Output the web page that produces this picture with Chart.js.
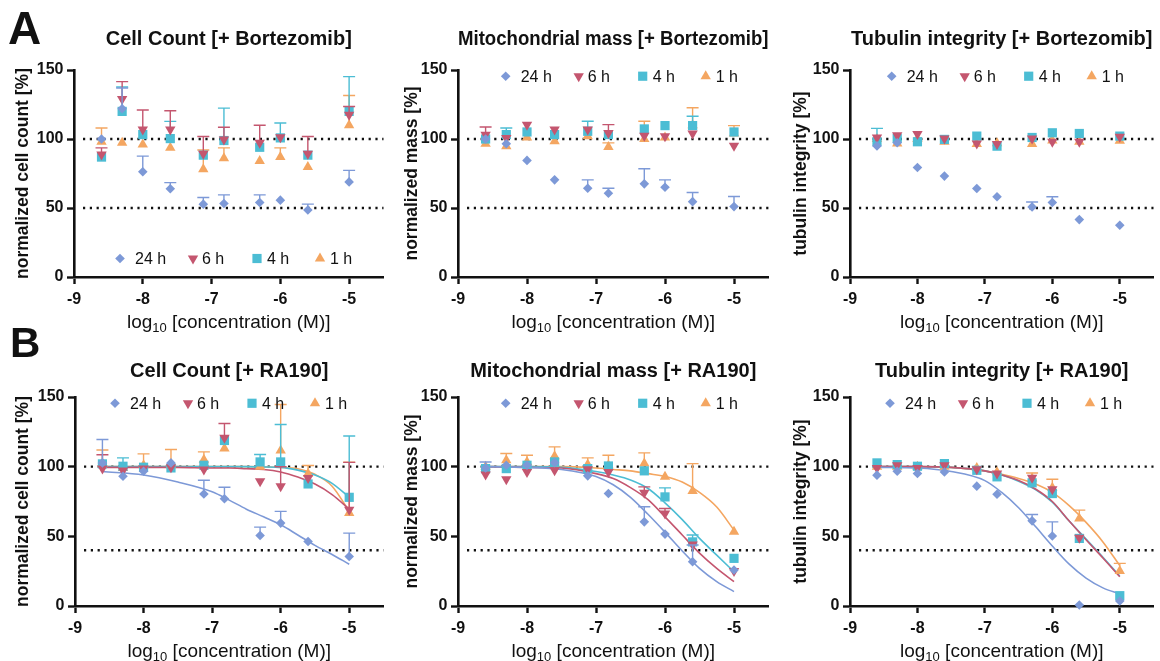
<!DOCTYPE html>
<html lang="en">
<head>
  <meta charset="UTF-8" />
  <title>Cell count, mitochondrial mass and tubulin integrity</title>
  <script src="https://cdn.jsdelivr.net/npm/chart.js"></script>
  <style>
    body {
      margin: 0;
      background: #fff;
      font-family: 'Liberation Sans', Arial, sans-serif;
    }
    #fig {
      position: relative;
      width: 1160px;
      height: 661px;
      overflow: hidden;
    }
    #fig canvas {
      position: absolute;
    }
    .letter {
      position: absolute;
      font-weight: bold;
      line-height: 1;
      color: #111;
    }
  </style>
</head>
<body>
  <div id="fig">
    <canvas id="a1" width="390" height="338" style="left:0;top:0"></canvas>
    <canvas id="a2" width="385" height="338" style="left:390px;top:0"></canvas>
    <canvas id="a3" width="385" height="338" style="left:775px;top:0"></canvas>
    <canvas id="b1" width="390" height="323" style="left:0;top:338px"></canvas>
    <canvas id="b2" width="385" height="323" style="left:390px;top:338px"></canvas>
    <canvas id="b3" width="385" height="323" style="left:775px;top:338px"></canvas>
    <div class="letter" style="left:8px;top:5px;font-size:46px">A</div>
    <div class="letter" style="left:10px;top:322px;font-size:42px">B</div>
  </div>

  <script>
    // log10 concentrations (M) and tick labels
    const conc = [-8.6, -8.3, -8, -7.6, -7.12, -6.82, -6.3, -6, -5.6, -5];
    const fitConc = [-8.6, -8, -7.5, -7, -6.75, -6.5, -6.25, -6, -5.75, -5.5, -5.25, -5];
    const xTickValues = [-9, -8, -7, -6, -5];
    const yTickValues = [0, 50, 100, 150];
    const timepoints = ['24 h', '6 h', '4 h', '1 h'];

    // A: Bortezomib - cell count (mean, upper SEM)
    const bzCell24 = [100, 122, 76.3, 64, 52.8, 53.3, 54, 55.7, 48.5, 68.9];
    const bzCell24Err = [0, 15, 11.3, 4.4, 4.8, 6.2, 5.5, 0, 4.3, 8.4];
    const bzCell6 = [88.8, 129, 106.8, 106.8, 89.3, 99.6, 97.2, 101.3, 89.3, 117.6];
    const bzCell6Err = [4.8, 12.6, 14.2, 13.7, 12.5, 8.9, 12.8, 0, 12.5, 6];
    const bzCell4 = [86.9, 120, 103.2, 100.3, 88.3, 98.9, 94, 100.8, 88.3, 120];
    const bzCell4Err = [0, 17.7, 0, 12.5, 0, 23.5, 0, 10.8, 0, 25.2];
    const bzCell1 = [98, 97.2, 96, 93.6, 78, 86, 84, 86.9, 79.7, 110];
    const bzCell1Err = [10, 0, 0, 0, 14, 7.6, 0, 6.7, 0, 21.5];

    // A: Bortezomib - mitochondrial mass
    const bzMito24 = [100, 96.6, 84.5, 70.4, 64.3, 60.7, 67.5, 65, 54.6, 51];
    const bzMito24Err = [0, 0, 0, 0, 6.1, 3.6, 10.9, 5.4, 6.6, 7.3];
    const bzMito6 = [103, 100.7, 110.4, 106.8, 106.8, 104.4, 102.4, 102, 103.9, 95.1];
    const bzMito6Err = [5.7, 0, 0, 0, 0, 6, 0, 0, 0, 0];
    const bzMito4 = [100, 103.2, 105.1, 103.2, 105.6, 103.2, 107.3, 109.7, 109.7, 105.1];
    const bzMito4Err = [0, 4.8, 0, 0, 7.3, 0, 0, 0, 6.8, 0];
    const bzMito1 = [96.6, 94.7, 101, 98.3, 102, 94.2, 100, 101, 110, 104];
    const bzMito1Err = [0, 0, 0, 0, 0, 3, 12.9, 0, 12.6, 5.7];

    // A: Bortezomib - tubulin integrity
    const bzTub24 = [95, 97.3, 79.4, 73.1, 64.1, 58.1, 50.8, 54, 41.6, 37.5];
    const bzTub24Err = [0, 0, 0, 0, 0, 0, 3.6, 4.1, 0, 0];
    const bzTub6 = [101, 102.8, 103.6, 100.4, 96.8, 96.3, 100.4, 98, 98, 101.6];
    const bzTub6Err = [0, 0, 0, 0, 0, 0, 0, 0, 0, 0];
    const bzTub4 = [98, 100.4, 98, 99.7, 102.1, 94.8, 101.1, 104.5, 104, 102.1];
    const bzTub4Err = [9.7, 0, 0, 0, 0, 0, 0, 0, 0, 0];
    const bzTub1 = [100, 96.8, 100, 98, 96.3, 97, 96.3, 99, 98, 98.7];
    const bzTub1Err = [0, 0, 0, 0, 0, 0, 0, 0, 0, 0];

    // B: RA190 - cell count
    const raCell24 = [102.7, 93.1, 96.7, 102.7, 80.4, 77, 50.6, 59.5, 46.3, 35.5];
    const raCell24Err = [16.8, 0, 0, 0, 9.8, 8.2, 6, 8.4, 0, 16.8];
    const raCell6 = [98.6, 97.2, 98.6, 99.6, 97.9, 120.7, 89.5, 85.9, 91.9, 69.1];
    const raCell6Err = [10, 0, 0, 0, 0, 10.3, 0, 14, 0, 34];
    const raCell4 = [102, 100.3, 99.6, 99.1, 101, 118.8, 103.4, 103.4, 87.6, 78];
    const raCell4Err = [0, 6, 0, 0, 0, 0, 5.3, 26.9, 0, 44];
    const raCell1 = [102, 99, 101, 101, 105, 113, 100, 111.6, 95, 66.7];
    const raCell1Err = [10, 0, 8.2, 11.3, 5.6, 0, 0, 33, 5.8, 36.5];
    const raCellFit24 = [96.5, 94, 89, 82, 76, 69.5, 64, 58.3, 51, 43.5, 37, 30];
    const raCellFit6 = [99.5, 99.5, 99.5, 99, 99, 98.5, 98, 96.2, 92.5, 87.5, 80, 69.6];
    const raCellFit4 = [100, 100, 100, 100, 100, 100, 99.8, 99.5, 97.5, 94, 88, 78];
    const raCellFit1 = [100, 100, 100, 100, 100, 100, 99.8, 99.5, 98.5, 94.5, 86, 68];

    // B: RA190 - mitochondrial mass
    const raMito24 = [99, 101, 101, 102.9, 93.4, 80.7, 60.4, 51.6, 31.8, 25.8];
    const raMito24Err = [4.4, 0, 0, 0, 0, 0, 10.8, 0, 12, 0];
    const raMito6 = [94.3, 91, 96.2, 97.4, 98.2, 96.2, 81.2, 66.4, 44.2, 25.1];
    const raMito6Err = [0, 0, 0, 0, 0, 0, 4.3, 3.6, 0, 0];
    const raMito4 = [98.6, 98.6, 101, 103.4, 98.6, 100.5, 97, 78.3, 46, 34.2];
    const raMito4Err = [0, 0, 0, 0, 0, 0, 0, 6.5, 5, 0];
    const raMito1 = [100, 104.6, 103.4, 107.5, 101.5, 101, 102.2, 92.7, 82.6, 53.3];
    const raMito1Err = [0, 4.8, 4.8, 6.7, 4.8, 7.2, 7.7, 0, 19.6, 0];
    const raMitoFit24 = [100, 99.5, 98, 93, 87, 78, 66, 53, 39.5, 27, 17.5, 10.3];
    const raMitoFit6 = [100, 99.5, 99, 95, 91.5, 85, 76.5, 64, 51, 38, 27, 17.5];
    const raMitoFit4 = [100, 100, 99.5, 96.5, 94, 90.5, 84.5, 74, 62, 48.5, 36.5, 24.6];
    const raMitoFit1 = [100, 100, 100, 99, 98, 97, 95, 93, 89, 81.5, 71, 54.5];

    // B: RA190 - tubulin integrity (6 h point at -5 is not visible in the figure)
    const raTub24 = [93.9, 96.7, 95.1, 96.2, 86, 80.2, 61.1, 50.2, 0.7, 3.6];
    const raTub24Err = [0, 0, 0, 0, 0, 0, 4.6, 10.2, 0, 0];
    const raTub6 = [99, 101, 99, 101, 98.2, 95.1, 92, 83.8, 49, null];
    const raTub6Err = [0, 0, 0, 0, 0, 0, 0, 0, 0, 0];
    const raTub4 = [102.7, 101.5, 100.3, 102.2, 97.4, 92.7, 88.4, 80.7, 48.5, 7.4];
    const raTub4Err = [0, 0, 0, 0, 0, 0, 0, 0, 0, 0];
    const raTub1 = [100, 100, 100, 100, 99.1, 96, 91.5, 84.8, 62.8, 25.1];
    const raTub1Err = [0, 0, 0, 0, 0, 0, 4, 6.2, 6, 5.5];
    const raTubFit24 = [99.5, 99, 96.5, 90, 81.5, 70.5, 57, 43, 30, 20, 13, 8.7];
    const raTubFit6 = [100, 100, 99.5, 97, 94, 90, 84, 75, 61, 47.5, 34.5, 21];
    const raTubFit4 = [100, 100, 99.5, 97, 94, 89.5, 83.5, 74.5, 61, 48, 35, 21.5];
    const raTubFit1 = [100, 100, 99.5, 97, 94.5, 91.5, 87.5, 81.5, 72, 60, 46, 29];

    // marker look per time point (24 h, 6 h, 4 h, 1 h)
    const styles = [
      { color: '#7d99d7', shape: 'rectRot', rot: 0, r: 4.8 },
      { color: '#c4566f', shape: 'triangle', rot: 180, r: 6 },
      { color: '#4cbdd4', shape: 'rect', rot: 0, r: 6.5 },
      { color: '#f4a661', shape: 'triangle', rot: 0, r: 6 }
    ];
    const legendOffsets = [0, 73, 137, 200];
    const legendGaps = [15, 9, 10, 10];

    const rows = {
      A: { padTop: 27.5, titleGap: 18.5, xH: 61 },
      B: { padTop: 21.7, titleGap: 13.3, xH: 55 }
    };

    const panels = [
      { id: 'a1', row: 'A', title: 'Cell Count [+ Bortezomib]', yTitle: 'normalized cell count [%]',
        yW: 74, yTitlePad: 12.8, right: 3, refLines: [100, 50], legendY: 13.4, legendX: 46,
        series: [[bzCell24, bzCell24Err], [bzCell6, bzCell6Err], [bzCell4, bzCell4Err], [bzCell1, bzCell1Err]] },
      { id: 'a2', row: 'A', title: 'Mitochondrial mass [+ Bortezomib]', yTitle: 'normalized mass [%]',
        yW: 68, yTitlePad: 11.5, right: 6.5, refLines: [100, 50], legendY: 145.5, legendX: 47.7,
        series: [[bzMito24, bzMito24Err], [bzMito6, bzMito6Err], [bzMito4, bzMito4Err], [bzMito1, bzMito1Err]] },
      { id: 'a3', row: 'A', title: 'Tubulin integrity [+ Bortezomib]', yTitle: 'tubulin integrity [%]',
        yW: 75, yTitlePad: 15.5, right: 0, refLines: [100, 50], legendY: 145.5, legendX: 41.7,
        series: [[bzTub24, bzTub24Err], [bzTub6, bzTub6Err], [bzTub4, bzTub4Err], [bzTub1, bzTub1Err]] },
      { id: 'b1', row: 'B', title: 'Cell Count [+ RA190]', yTitle: 'normalized cell count [%]',
        yW: 75, yTitlePad: 12.8, right: 3, refLines: [100, 40], legendY: 145.5, legendX: 40,
        series: [[raCell24, raCell24Err], [raCell6, raCell6Err], [raCell4, raCell4Err], [raCell1, raCell1Err]],
        fits: [raCellFit24, raCellFit6, raCellFit4, raCellFit1] },
      { id: 'b2', row: 'B', title: 'Mitochondrial mass [+ RA190]', yTitle: 'normalized mass [%]',
        yW: 68, yTitlePad: 11.5, right: 6.5, refLines: [100, 40], legendY: 145.5, legendX: 47.7,
        series: [[raMito24, raMito24Err], [raMito6, raMito6Err], [raMito4, raMito4Err], [raMito1, raMito1Err]],
        fits: [raMitoFit24, raMitoFit6, raMitoFit4, raMitoFit1] },
      { id: 'b3', row: 'B', title: 'Tubulin integrity [+ RA190]', yTitle: 'tubulin integrity [%]',
        yW: 75, yTitlePad: 15.5, right: 0, refLines: [100, 40], legendY: 145.5, legendX: 40,
        series: [[raTub24, raTub24Err], [raTub6, raTub6Err], [raTub4, raTub4Err], [raTub1, raTub1Err]],
        fits: [raTubFit24, raTubFit6, raTubFit4, raTubFit1] }
    ];

    const FONT = "'Liberation Sans', Arial, sans-serif";
    Chart.defaults.font.family = FONT;
    Chart.defaults.color = '#111';

    function drawMark(ctx, s, x, y) {
      const r = s.r;
      ctx.fillStyle = s.color;
      ctx.beginPath();
      if (s.shape === 'rectRot') {
        ctx.moveTo(x, y - r); ctx.lineTo(x + r, y); ctx.lineTo(x, y + r); ctx.lineTo(x - r, y);
      } else if (s.shape === 'rect') {
        const h = r * Math.SQRT1_2;
        ctx.rect(x - h, y - h, 2 * h, 2 * h);
      } else {
        const d = s.rot ? -1 : 1;
        ctx.moveTo(x, y - d * r);
        ctx.lineTo(x + r * 0.866, y + d * r / 2);
        ctx.lineTo(x - r * 0.866, y + d * r / 2);
      }
      ctx.closePath();
      ctx.fill();
    }

    // dotted reference lines, one-sided error bars, legend and the x title with subscript
    const extras = {
      id: 'extras',
      beforeDatasetsDraw(chart, args, opts) {
        const { ctx, chartArea: a } = chart;
        const y = chart.scales.y;
        ctx.save();
        ctx.strokeStyle = '#111';
        ctx.lineWidth = 2.4;
        ctx.setLineDash([2.2, 4.6]);
        opts.refLines.forEach(v => {
          const py = y.getPixelForValue(v);
          ctx.beginPath();
          ctx.moveTo(a.left + 9, py);
          ctx.lineTo(a.right, py);
          ctx.stroke();
        });
        ctx.restore();
      },
      beforeDatasetDraw(chart, args) {
        const ds = chart.data.datasets[args.index];
        if (!ds.errs) return;
        const { ctx } = chart;
        const y = chart.scales.y;
        ctx.save();
        ctx.strokeStyle = ds.borderColor;
        ctx.lineWidth = 1.4;
        args.meta.data.forEach((pt, i) => {
          const e = ds.errs[i];
          if (!e || ds.data[i].y == null) return;
          const top = y.getPixelForValue(ds.data[i].y + e);
          ctx.beginPath();
          ctx.moveTo(pt.x, pt.y);
          ctx.lineTo(pt.x, top);
          ctx.moveTo(pt.x - 6, top);
          ctx.lineTo(pt.x + 6, top);
          ctx.stroke();
        });
        ctx.restore();
      },
      afterDraw(chart, args, opts) {
        const { ctx, chartArea: a } = chart;
        const y0 = chart.scales.y.getPixelForValue(opts.legendY);
        ctx.save();
        ctx.font = '16px ' + FONT;
        ctx.fillStyle = '#111';
        ctx.textBaseline = 'middle';
        timepoints.forEach((t, i) => {
          const mx = a.left + opts.legendX + legendOffsets[i];
          drawMark(ctx, styles[i], mx, y0);
          ctx.fillStyle = '#111';
          ctx.fillText(t, mx + legendGaps[i], y0 + 1.5);
        });

        // x axis title: log10 [concentration (M)]
        const main = '19px ' + FONT, sub = '13px ' + FONT;
        const rest = ' [concentration (M)]';
        ctx.font = main; const w1 = ctx.measureText('log').width; const w3 = ctx.measureText(rest).width;
        ctx.font = sub; const w2 = ctx.measureText('10').width;
        let x = (a.left + a.right) / 2 - (w1 + w2 + w3) / 2;
        const base = a.bottom + 50.5;
        ctx.textBaseline = 'alphabetic';
        ctx.font = main; ctx.fillText('log', x, base); x += w1;
        ctx.font = sub; ctx.fillText('10', x, base + 4); x += w2;
        ctx.font = main; ctx.fillText(rest, x, base);
        ctx.restore();
      }
    };

    panels.forEach(p => {
      const row = rows[p.row];
      const datasets = p.series.map(([vals, errs], i) => ({
        label: timepoints[i],
        data: conc.map((x, k) => ({ x, y: vals[k] })),
        errs,
        backgroundColor: styles[i].color,
        borderColor: styles[i].color,
        pointStyle: styles[i].shape,
        pointRotation: styles[i].rot,
        pointRadius: styles[i].r,
        pointBorderWidth: 0,
        showLine: false,
        clip: false,
        order: 0
      }));
      (p.fits || []).forEach((vals, i) => {
        datasets.push({
          label: timepoints[i] + ' fit',
          data: fitConc.map((x, k) => ({ x, y: vals[k] })),
          borderColor: styles[i].color,
          borderWidth: 1.6,
          showLine: true,
          pointRadius: 0,
          cubicInterpolationMode: 'monotone',
          fill: false,
          order: 1
        });
      });

      new Chart(document.getElementById(p.id), {
        type: 'scatter',
        data: { datasets },
        plugins: [extras],
        options: {
          responsive: false,
          animation: false,
          events: [],
          layout: { padding: { left: 0, top: row.padTop, right: p.right, bottom: 0 } },
          plugins: {
            legend: { display: false },
            tooltip: { enabled: false },
            title: {
              display: true,
              text: p.title,
              fullSize: false,
              color: '#111',
              font: { size: 20, weight: 'bold', lineHeight: 1.2 },
              padding: { top: 0, bottom: row.titleGap }
            },
            extras: { refLines: p.refLines, legendY: p.legendY, legendX: p.legendX }
          },
          scales: {
            x: {
              type: 'linear',
              min: -9,
              max: -4.5,
              afterBuildTicks: s => { s.ticks = xTickValues.map(v => ({ value: v })); },
              afterFit: s => { s.height = row.xH; },
              ticks: { color: '#111', padding: 6, font: { size: 16, weight: 'bold' } },
              grid: { display: true, drawOnChartArea: false, drawTicks: true, tickLength: 7, tickWidth: 2.4, tickColor: '#111' },
              border: { display: true, color: '#111', width: 2.6 }
            },
            y: {
              type: 'linear',
              min: 0,
              max: 150,
              afterBuildTicks: s => { s.ticks = yTickValues.map(v => ({ value: v })); },
              afterFit: s => { s.width = p.yW; },
              title: {
                display: true,
                text: p.yTitle,
                color: '#111',
                font: { size: 17.5, weight: 'bold', lineHeight: 1.2 },
                padding: { top: p.yTitlePad, bottom: 0 }
              },
              ticks: { color: '#111', padding: 3.5, font: { size: 16, weight: 'bold' } },
              grid: { display: true, drawOnChartArea: false, drawTicks: true, tickLength: 7, tickWidth: 2.4, tickColor: '#111' },
              border: { display: true, color: '#111', width: 2.6 }
            }
          }
        }
      });
    });
  </script>
</body>
</html>
